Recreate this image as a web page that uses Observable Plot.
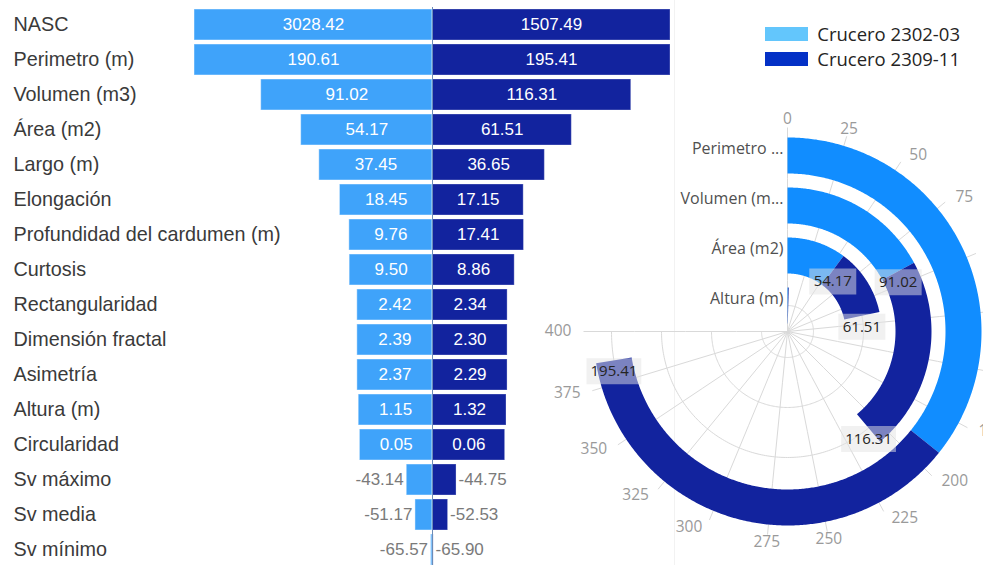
<!DOCTYPE html>
<html><head><meta charset="utf-8">
<script src="https://cdn.jsdelivr.net/npm/d3@7"></script>
<script src="https://cdn.jsdelivr.net/npm/@observablehq/plot@0.6"></script>
<style>
html,body{margin:0;padding:0;background:#fff;}
#wrap{position:relative;width:983px;height:565px;overflow:hidden;background:#fff;}
#left{position:absolute;left:0;top:0;width:675px;height:565px;}
#sep{position:absolute;left:674px;top:0;width:1px;height:565px;background:#f2f2f2;}
#radial{position:absolute;left:540px;top:0;width:443px;height:565px;}
#legend{position:absolute;left:765px;top:21px;}
.lg-swatch{padding-bottom:0 !important;height:25px;}
</style></head><body>
<div id="wrap"><div id="left"></div><div id="sep"></div><div id="radial"></div><div id="legend"></div></div>
<script>
// ---------- data ----------
const categories = ["NASC","Perimetro (m)","Volumen (m3)","Área (m2)","Largo (m)","Elongación","Profundidad del cardumen (m)","Curtosis","Rectangularidad","Dimensión fractal","Asimetría","Altura (m)","Circularidad","Sv máximo","Sv media","Sv mínimo"];
const crucero2302 = [3028.42,190.61,91.02,54.17,37.45,18.45,9.76,9.50,2.42,2.39,2.37,1.15,0.05,-43.14,-51.17,-65.57];
const crucero2309 = [1507.49,195.41,116.31,61.51,36.65,17.15,17.41,8.86,2.34,2.30,2.29,1.32,0.06,-44.75,-52.53,-65.90];
const seriesNames = ["Crucero 2302-03","Crucero 2309-11"];
const funnelMin = -66.9, funnelMax = 152.5;           // funnel axis domain (bars clipped at max)
const radialCategories = ["Perimetro (m)","Volumen (m3)","Área (m2)","Altura (m)"];
const radialAxisLabels = ["Perimetro ...","Volumen (m...","Área (m2)","Altura (m)"];
const radialLabelShown2302 = [false,true,true,false];
const radialLabelShown2309 = [true,true,true,false];
const angleTicks = [0,25,50,75,100,125,150,175,200,225,250,275,300,325,350,375,400];
const angleMax = 400;

// ---------- styles ----------
const barLight = "#3FA3FA", barDark = "#12239E";
const ringLight = "#118DFF", ringDark = "#12239E";
const legendColors = ["#63C6FC", "#0431C6"];
const leftFont = "'Liberation Sans', Arial, sans-serif";
const rightFont = "'Open Sans', 'Noto Sans', sans-serif";

// ---------- left funnel / butterfly ----------
const rows = categories.map((cat, i) => ({cat, a: crucero2302[i], b: crucero2309[i]}));
const span = funnelMax - funnelMin;
const len = v => Math.max(0, Math.min(v, funnelMax) - funnelMin);
const fmt = v => v.toFixed(2);
const pos = rows.filter(d => d.a >= 0);
const neg = rows.filter(d => d.a < 0);

const left = Plot.plot({
  width: 675, height: 566, marginLeft: 194, marginRight: 5, marginTop: 7, marginBottom: 0,
  x: {domain: [-span, span], axis: null},
  y: {domain: categories, axis: null, paddingInner: 0.12, paddingOuter: 0},
  style: {background: "transparent", fontFamily: leftFont, overflow: "visible"},
  marks: [
    Plot.barX(rows, {y: "cat", x1: 0, x2: d => -len(d.a), fill: barLight, stroke: "#ffffff", strokeOpacity: 0.45}),
    Plot.barX(rows, {y: "cat", x1: 0, x2: d => len(d.b), fill: barDark, stroke: "#ffffff", strokeOpacity: 0.3}),
    Plot.ruleX([0], {stroke: "#6c8cb8", strokeWidth: 1}),
    Plot.text(pos, {y: "cat", x: d => -len(d.a) / 2, text: d => fmt(d.a), fill: "white", fontSize: 17}),
    Plot.text(pos, {y: "cat", x: d => len(d.b) / 2, text: d => fmt(d.b), fill: "white", fontSize: 17}),
    Plot.text(neg, {y: "cat", x: d => -len(d.a), text: d => fmt(d.a), fill: "#7a7a7a", fontSize: 17, textAnchor: "end", dx: -3}),
    Plot.text(neg, {y: "cat", x: d => len(d.b), text: d => fmt(d.b), fill: "#7a7a7a", fontSize: 17, textAnchor: "start", dx: 2}),
    Plot.text(rows, {y: "cat", text: "cat", frameAnchor: "left", textAnchor: "start", dx: -181, fill: "#3a3a3a", fontSize: 19.8})
  ]
});
document.getElementById("left").appendChild(left);

// ---------- right radial bar chart ----------
const ang = d3.scaleLinear([0, angleMax], [0, 270]);              // clockwise degrees from top
const band = d3.scaleBand(radialCategories, [90, 0]).paddingInner(0.28).paddingOuter(0.16); // degrees from pole
const bw = band.bandwidth();
const outerPx = 202;
const pxPerDeg = outerPx / 90;
const lonOf = v => 180 - ang(v);
const radialWidth = 443;
const cx = 787 - 540, cy = 331;
const projection = d3.geoAzimuthalEquidistant().rotate([0, -90]).scale(outerPx / (Math.PI / 2)).translate([cx, cy]);

const valueOf = (arr, cat) => arr[categories.indexOf(cat)];
const segs = [];
radialCategories.forEach((cat, i) => {
  const a = valueOf(crucero2302, cat), b = valueOf(crucero2309, cat);
  segs.push({cat, s: 0, v0: 0, v1: a, value: a, shown: radialLabelShown2302[i]});
  segs.push({cat, s: 1, v0: a, v1: a + b, value: b, shown: radialLabelShown2309[i]});
});

function segFeature(d) {
  const Din = band(d.cat), Dout = Din + bw;
  const t0 = ang(d.v0), t1 = ang(d.v1);
  const n = Math.max(2, Math.ceil((t1 - t0) / 0.5));
  const outer = d3.range(n + 1).map(k => [180 - (t0 + (t1 - t0) * k / n), 90 - Dout]);
  const inner = outer.map(p => [p[0], 90 - Din]).reverse();
  const ring = [...outer, ...inner, outer[0]];
  const f = {type: "Feature", properties: d, geometry: {type: "Polygon", coordinates: [ring]}};
  if (d3.geoArea(f) > 2 * Math.PI) f.geometry.coordinates = [ring.slice().reverse()];
  return f;
}
const lightFeatures = segs.filter(d => d.s === 0).map(segFeature);
const darkFeatures = segs.filter(d => d.s === 1).map(segFeature);

const gridArcs = radialCategories.map(cat => {
  const D = band(cat) + bw / 2;
  return {type: "Feature", properties: {}, geometry: {type: "LineString",
    coordinates: d3.range(0, 271, 1).map(t => [180 - t, 90 - D])}};
});
const spokeEnd = 90 - 204 / pxPerDeg;

// angular tick labels: text box placed just outside radius 212, aligned away from the centre
const tickLabels = angleTicks.map(t => {
  const th = ang(t) * Math.PI / 180;
  const s = Math.sin(th);
  const w = String(t).length * 8.9;
  const hs = Math.abs(s) > 0.3 ? Math.sign(s) : 0;
  const [px, py] = projection([lonOf(t), 90 - 212 / pxPerDeg]);
  const x = px + hs * (w / 2 + 4);
  const [lo, la] = projection.invert([x, py]);
  return {t, lon: lo, lat: la, left: x - w / 2};
}).filter(d => d.left < radialWidth);

const shownLabels = segs.filter(d => d.shown);
const boxSymbol = {draw(ctx, size) { const r = Math.sqrt(size / Math.PI); ctx.rect(-r, -13, 2 * r, 26); }};

const radial = Plot.plot({
  width: radialWidth, height: 565, margin: 0,
  projection,
  r: {type: "linear", domain: [0, 100], range: [0, 100]},
  style: {background: "transparent", fontFamily: rightFont, overflow: "hidden"},
  marks: [
    Plot.geo(gridArcs, {stroke: "#d9d9d9", strokeWidth: 1, fill: "none"}),
    Plot.link(angleTicks, {x1: t => lonOf(t), y1: 90, x2: t => lonOf(t), y2: spokeEnd, stroke: "#d9d9d9", strokeWidth: 1}),
    Plot.text(tickLabels, {x: "lon", y: "lat", text: d => String(d.t), fill: "#9a9a9a", fontSize: 15.5}),
    Plot.geo(lightFeatures, {fill: ringLight, stroke: "none"}),
    Plot.geo(darkFeatures, {fill: ringDark, stroke: "none"}),
    Plot.text(radialCategories, {x: 180, y: c => 90 - (band(c) + bw / 2), text: (c, i) => radialAxisLabels[i], textAnchor: "end", dx: -4, dy: -7, fill: "#505050", fontSize: 16}),
    Plot.dot(shownLabels, {x: d => lonOf(d.v1), y: d => 90 - (band(d.cat) + bw / 2), r: d => 3.9 * fmt(d.value).length + 4, symbol: boxSymbol, fill: "#e3e3e3", fillOpacity: 0.5, stroke: "none", dy: 11}),
    Plot.text(shownLabels, {x: d => lonOf(d.v1), y: d => 90 - (band(d.cat) + bw / 2), text: d => fmt(d.value), fill: "#252423", fontSize: 15, dy: 11})
  ]
});
document.getElementById("radial").appendChild(radial);

// ---------- legend ----------
const legend = Plot.legend({
  color: {type: "ordinal", domain: seriesNames, range: legendColors, legend: "swatches"},
  columns: 1, swatchWidth: 43, swatchHeight: 14, className: "lg",
  style: {fontFamily: rightFont, fontSize: "18.5px", color: "#252423", margin: "0"}
});
document.getElementById("legend").appendChild(legend);
</script></body></html>
